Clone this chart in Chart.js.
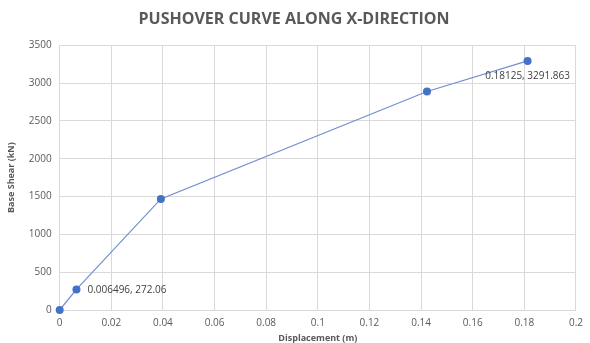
<!DOCTYPE html>
<html>
<head>
<meta charset="utf-8">
<script src="https://cdn.jsdelivr.net/npm/chart.js@4/dist/chart.umd.min.js"></script>
<style>
  html, body { margin: 0; padding: 0; background: #ffffff; }
  #wrap { width: 590px; height: 343px; position: relative; }
</style>
</head>
<body>
<div id="wrap"><canvas id="chart"></canvas></div>
<script>
// Pushover curve: displacement (m) vs base shear (kN)
const displacement = [0, 0.006496, 0.0392, 0.1423, 0.18125];
const baseShear = [0, 272.06, 1468, 2888, 3291.863];
// Points that carry a value label, and where the label sits
const labelledPoints = [1, 4];
const labelSide = { 1: 'right', 4: 'below' };
const xTicks = [0, 0.02, 0.04, 0.06, 0.08, 0.1, 0.12, 0.14, 0.16, 0.18, 0.2];
const yTicks = [0, 500, 1000, 1500, 2000, 2500, 3000, 3500];

const points = displacement.map((x, i) => ({ x: x, y: baseShear[i] }));
const FONT = "'Open Sans', 'Liberation Sans', sans-serif";
const GREY = '#595959';

// Draws "x, y" value labels next to selected points
const valueLabels = {
  id: 'valueLabels',
  afterDatasetsDraw(chart) {
    const ctx = chart.ctx;
    const meta = chart.getDatasetMeta(0);
    ctx.save();
    ctx.font = '10px ' + FONT;
    ctx.fillStyle = '#404040';
    labelledPoints.forEach(i => {
      const el = meta.data[i];
      const text = displacement[i] + ', ' + baseShear[i];
      if (labelSide[i] === 'right') {
        ctx.textAlign = 'left';
        ctx.textBaseline = 'middle';
        ctx.fillText(text, el.x + 11, el.y + 1);
      } else {
        ctx.textAlign = 'center';
        ctx.textBaseline = 'top';
        ctx.fillText(text, el.x, el.y + 10);
      }
    });
    ctx.restore();
  }
};

new Chart(document.getElementById('chart'), {
  type: 'scatter',
  data: {
    datasets: [{
      data: points,
      showLine: true,
      clip: false,
      borderColor: '#6f8fcf',
      borderWidth: 1.2,
      backgroundColor: '#4472C4',
      pointBackgroundColor: '#4472C4',
      pointBorderColor: '#4472C4',
      pointRadius: 4,
      pointBorderWidth: 0,
      tension: 0
    }]
  },
  plugins: [valueLabels],
  options: {
    responsive: true,
    maintainAspectRatio: false,
    animation: false,
    layout: { padding: { left: 6, right: 8, top: 4, bottom: 0 } },
    plugins: {
      legend: { display: false },
      tooltip: { enabled: false },
      title: {
        display: true,
        text: 'PUSHOVER CURVE ALONG X-DIRECTION',
        color: GREY,
        font: { family: FONT, size: 16, weight: 'bold' },
        padding: { top: 6, bottom: 16 }
      }
    },
    scales: {
      x: {
        type: 'linear',
        min: 0,
        max: 0.2,
        afterBuildTicks(axis) { axis.ticks = xTicks.map(v => ({ value: v })); },
        ticks: {
          color: GREY,
          font: { family: FONT, size: 10 },
          padding: 7,
          callback: v => String(Math.round(v * 100) / 100)
        },
        grid: { color: '#d9d9d9', lineWidth: 1, drawTicks: false },
        border: { display: true, color: '#d9d9d9' },
        title: {
          display: true,
          text: 'Displacement (m)',
          color: GREY,
          font: { family: FONT, size: 9, weight: 'bold', lineHeight: 1.0 },
          padding: { top: -2, bottom: 0 }
        }
      },
      y: {
        min: 0,
        max: 3500,
        afterBuildTicks(axis) { axis.ticks = yTicks.map(v => ({ value: v })); },
        ticks: {
          color: GREY,
          font: { family: FONT, size: 10 },
          padding: 8,
          callback: v => String(v)
        },
        grid: { color: '#d9d9d9', lineWidth: 1, drawTicks: false },
        border: { display: false },
        title: {
          display: true,
          text: 'Base Shear (kN)',
          color: GREY,
          font: { family: FONT, size: 9, weight: 'bold' },
          padding: { top: 0, bottom: 4 }
        }
      }
    }
  }
});
</script>
</body>
</html>
